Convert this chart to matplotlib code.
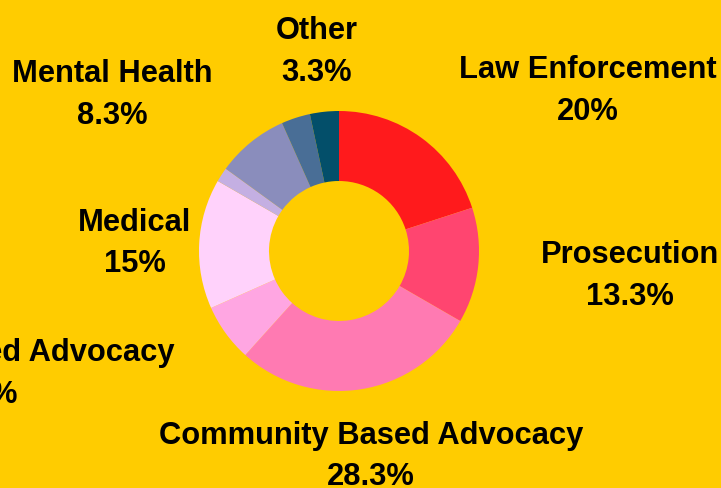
import matplotlib
matplotlib.use("Agg")
import matplotlib.pyplot as plt

# ── Data ─────────────────────────────────────────────────────────
categories = ["Law Enforcement", "Prosecution", "Community Based Advocacy",
              "Systems Based Advocacy", "Medical", "Faith Based",
              "Mental Health", "Education", "Other"]
counts = [12, 8, 17, 4, 9, 1, 5, 2, 2]
pct_labels = ["20%", "13.3%", "28.3%", "6.7%", "15%", "", "8.3%", "", "3.3%"]
show_label = [True, True, True, True, True, False, True, False, True]

colors = ["#ff1a1c", "#ff4570", "#ff7ab2", "#ffa6e2", "#ffd2fb",
          "#c4afe2", "#8a8dbc", "#496e96", "#034f6a"]

# label anchors, in units of the pie radius (centre of each text block)
label_pos = [(1.78, 1.15), (2.08, -0.17), (0.23, -1.46), (-2.54, -0.87),
             (-1.46, 0.06), (0, 0), (-1.62, 1.12), (0, 0), (-0.16, 1.43)]

BG = "#ffcc00"
W, H = 721, 489
CX, CY, R = 339, 252, 140

fig = plt.figure(figsize=(W / 100, H / 100), dpi=100, facecolor=BG)
ax = fig.add_axes([0, 0, 1, 1])
ax.set_facecolor(BG)

ax.pie(counts, colors=colors, startangle=90, counterclock=False,
       radius=1, wedgeprops=dict(width=0.5, linewidth=0))

for name, pct, show, (lx, ly) in zip(categories, pct_labels, show_label, label_pos):
    if not show:
        continue
    ax.text(lx, ly, f"{name}\n{pct}", ha="center", va="center",
            multialignment="center", fontsize=22.2, fontweight="bold",
            family="Liberation Sans", color="black", linespacing=1.5)

ax.set_xlim(-CX / R, (W - CX) / R)
ax.set_ylim(-(H - CY) / R, CY / R)
ax.set_aspect("equal")
ax.axis("off")

fig.savefig("out.png", dpi=100, facecolor=BG)
